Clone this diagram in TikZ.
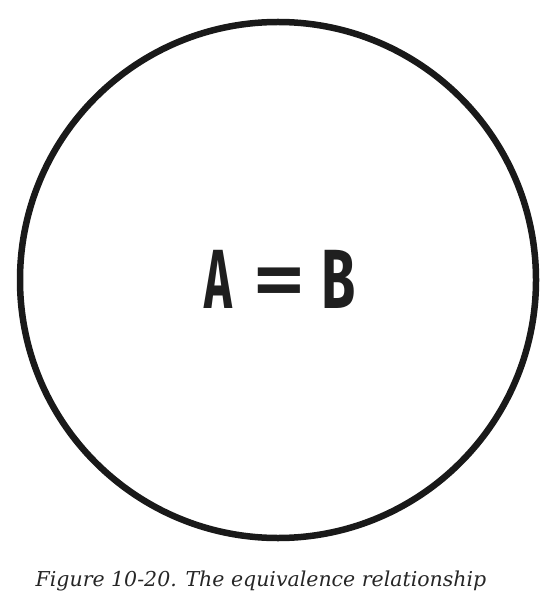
\documentclass[tikz,border=0pt]{standalone}
\usepackage{fontspec}
\setmainfont{DejaVu Serif}
\newfontfamily\eqfont{Fira Sans}[UprightFont={* Bold}]
\newfontfamily\eqsign{Fira Sans}[UprightFont={* Medium}]
\begin{document}
\begin{tikzpicture}[x=1pt,y=-1pt,
  ring/.style={draw=black!90,line width=6.5pt},
  eqtext/.style={inner sep=0pt,font=\eqfont\fontsize{84}{84}\selectfont,text=black!88},
  captext/.style={inner sep=0pt,font=\itshape\fontsize{20.5}{20.5}\selectfont,text=black!85}]
\useasboundingbox (0,0) rectangle (558,612);
\node[ring,circle,minimum size=516pt,inner sep=0pt] (c) at (278,280) {};
\node[eqtext,anchor=base] (eq) at (280,308) {\scalebox{0.56}[1]{A}\hspace{20pt}{\eqsign\scalebox{1.25}[1]{=}}\hspace{15pt}\scalebox{0.66}[1]{B}};
\node[captext,anchor=base] (cap) at (261,586) {Figure 10-20. The equivalence relationship};
\end{tikzpicture}
\end{document}
